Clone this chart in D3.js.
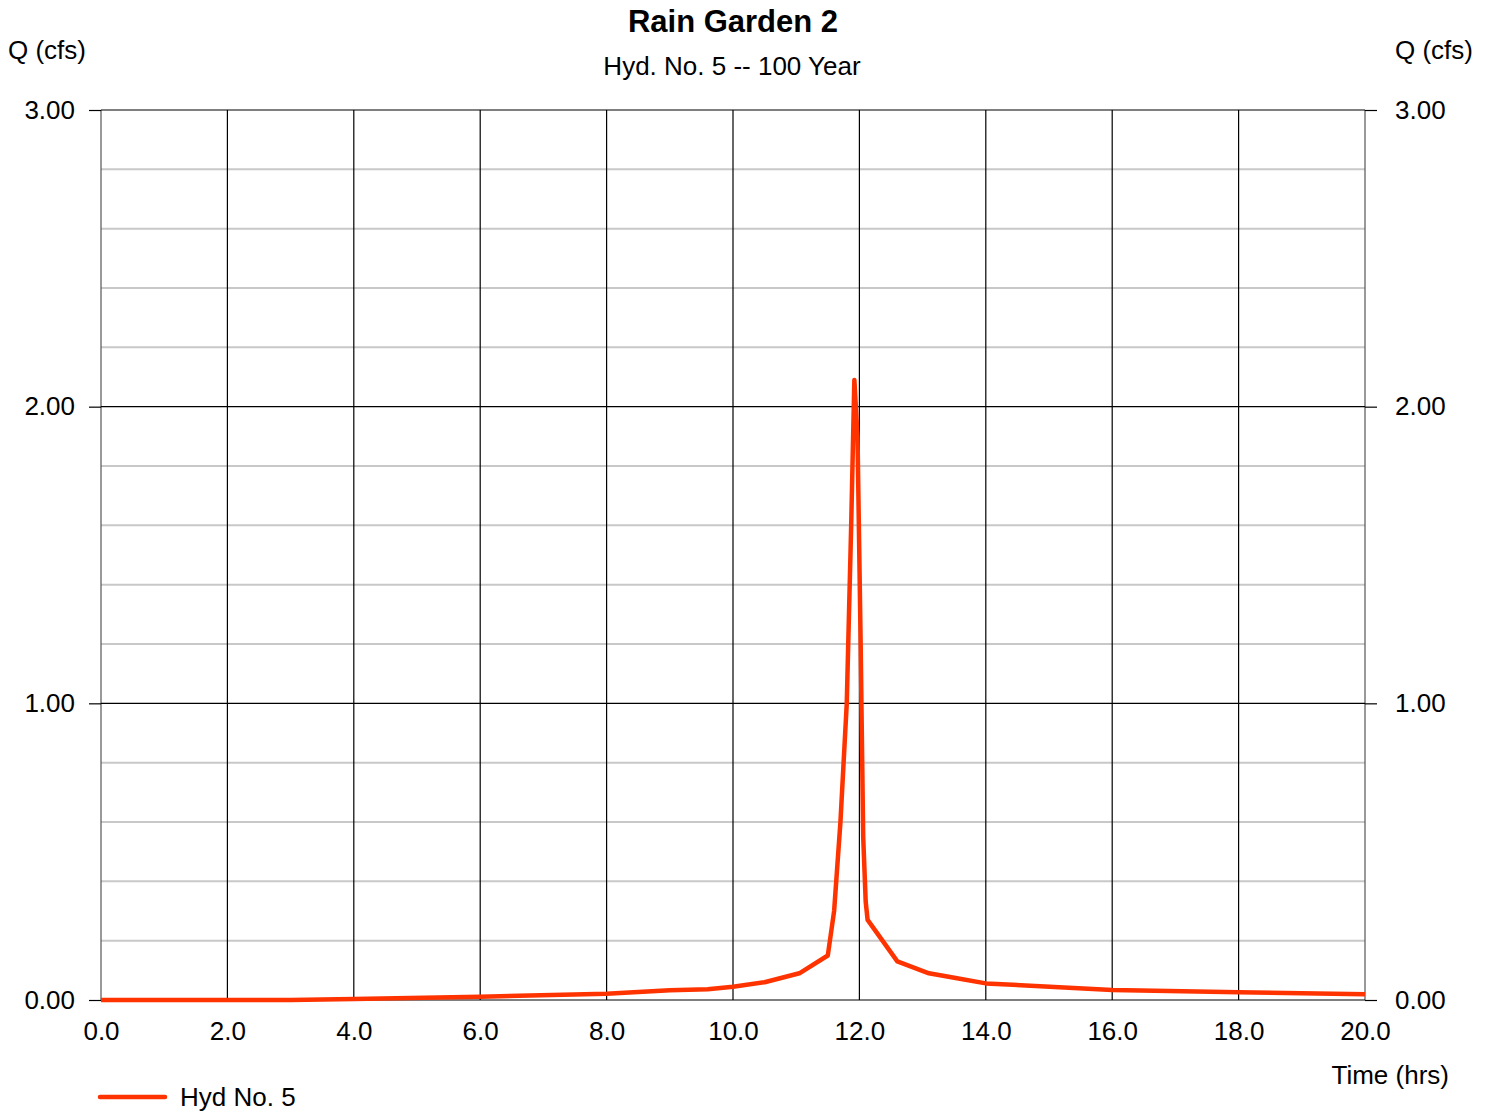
<!DOCTYPE html>
<html>
<head>
<meta charset="utf-8">
<script src="https://cdn.jsdelivr.net/npm/d3@7"></script>
<style>
  body { margin: 0; background: #fff; }
  text { font-family: "Liberation Sans", Arial, sans-serif; fill: #000; }
</style>
</head>
<body>
<div id="chart"></div>
<script>
const hours = [0, 2, 3, 4, 6, 8, 9, 9.6, 10, 10.5, 11.05, 11.5, 11.6, 11.7, 11.8, 11.87, 11.92, 11.97, 12.02, 12.06, 12.1, 12.13, 12.6, 13.1, 13.5, 14.0, 16.0, 18.0, 20.0];
const flows = [0, 0, 0, 0.003, 0.011, 0.021, 0.033, 0.036, 0.045, 0.06, 0.09, 0.15, 0.3, 0.6, 1.0, 1.6, 2.09, 1.9, 1.2, 0.55, 0.33, 0.27, 0.13, 0.09, 0.075, 0.056, 0.034, 0.026, 0.019];
const xTicks = [0, 2, 4, 6, 8, 10, 12, 14, 16, 18, 20];
const yMajor = [0, 1, 2, 3];
const yMinor = d3.range(0, 3.0001, 0.2);

const title = "Rain Garden 2";
const subtitle = "Hyd. No. 5 -- 100 Year";
const seriesName = "Hyd No. 5";

const width = 1492, height = 1112;
const margin = { left: 101, right: 127, top: 110, bottom: 112 };

const svg = d3.select("#chart").append("svg")
  .attr("width", width)
  .attr("height", height);

const x = d3.scaleLinear().domain([0, 20]).range([margin.left, width - margin.right]);
const y = d3.scaleLinear().domain([0, 3]).range([height - margin.bottom, margin.top]);

// minor horizontal grid
svg.append("g").selectAll("line")
  .data(yMinor.filter(v => Math.abs(v - Math.round(v)) > 0.01))
  .join("line")
  .attr("x1", x(0)).attr("x2", x(20))
  .attr("y1", d => y(d)).attr("y2", d => y(d))
  .attr("stroke", "#c8c8c8")
  .attr("stroke-width", 2);

// major vertical grid
svg.append("g").selectAll("line")
  .data(xTicks)
  .join("line")
  .attr("x1", d => x(d)).attr("x2", d => x(d))
  .attr("y1", y(3)).attr("y2", y(0))
  .attr("stroke", d => (d === 0 || d === 20) ? "#555" : "#000")
  .attr("stroke-width", 1.2);

// left axis
const leftAxis = svg.append("g")
  .attr("transform", `translate(${x(0)},0)`)
  .call(d3.axisLeft(y).tickValues(yMajor).tickSize(12).tickPadding(14).tickFormat(d3.format(".2f")));
leftAxis.select(".domain").remove();
leftAxis.selectAll("line").attr("stroke", "#000").attr("stroke-width", 1.2);
leftAxis.selectAll("text").style("font-size", "26px").attr("font-family", null);

// right axis
const rightAxis = svg.append("g")
  .attr("transform", `translate(${x(20)},0)`)
  .call(d3.axisRight(y).tickValues(yMajor).tickSize(12).tickPadding(18).tickFormat(d3.format(".2f")));
rightAxis.select(".domain").remove();
rightAxis.selectAll("line").attr("stroke", "#000").attr("stroke-width", 1.2);
rightAxis.selectAll("text").style("font-size", "26px").attr("font-family", null);

// major horizontal lines across the plot
svg.append("g").selectAll("line")
  .data(yMajor)
  .join("line")
  .attr("x1", x(0)).attr("x2", x(20))
  .attr("y1", d => y(d)).attr("y2", d => y(d))
  .attr("stroke", "#000")
  .attr("stroke-width", 1.2);

// bottom axis labels
const bottomAxis = svg.append("g")
  .attr("transform", `translate(0,${y(0)})`)
  .call(d3.axisBottom(x).tickValues(xTicks).tickSize(0).tickPadding(22).tickFormat(d3.format(".1f")));
bottomAxis.select(".domain").remove();
bottomAxis.selectAll("text").style("font-size", "26px").attr("font-family", null);

// flow line
const line = d3.line().x((d, i) => x(hours[i])).y(d => y(d));
svg.append("path")
  .datum(flows)
  .attr("fill", "none")
  .attr("stroke", "#ff3300")
  .attr("stroke-width", 4.5)
  .attr("stroke-linejoin", "round")
  .attr("d", line);

// titles
svg.append("text").attr("x", 733).attr("y", 32).attr("text-anchor", "middle")
  .style("font-size", "31px").style("font-weight", "bold").text(title);
svg.append("text").attr("x", 732).attr("y", 75).attr("text-anchor", "middle")
  .style("font-size", "26px").text(subtitle);
svg.append("text").attr("x", 8).attr("y", 59).style("font-size", "26px").text("Q (cfs)");
svg.append("text").attr("x", 1395).attr("y", 59).style("font-size", "26px").text("Q (cfs)");
svg.append("text").attr("x", 1449).attr("y", 1084).attr("text-anchor", "end")
  .style("font-size", "26px").text("Time (hrs)");

// legend
svg.append("line").attr("x1", 100).attr("x2", 165).attr("y1", 1097).attr("y2", 1097)
  .attr("stroke", "#ff3300").attr("stroke-width", 4.5).attr("stroke-linecap", "round");
svg.append("text").attr("x", 180).attr("y", 1106).style("font-size", "26px").text(seriesName);
</script>
</body>
</html>
